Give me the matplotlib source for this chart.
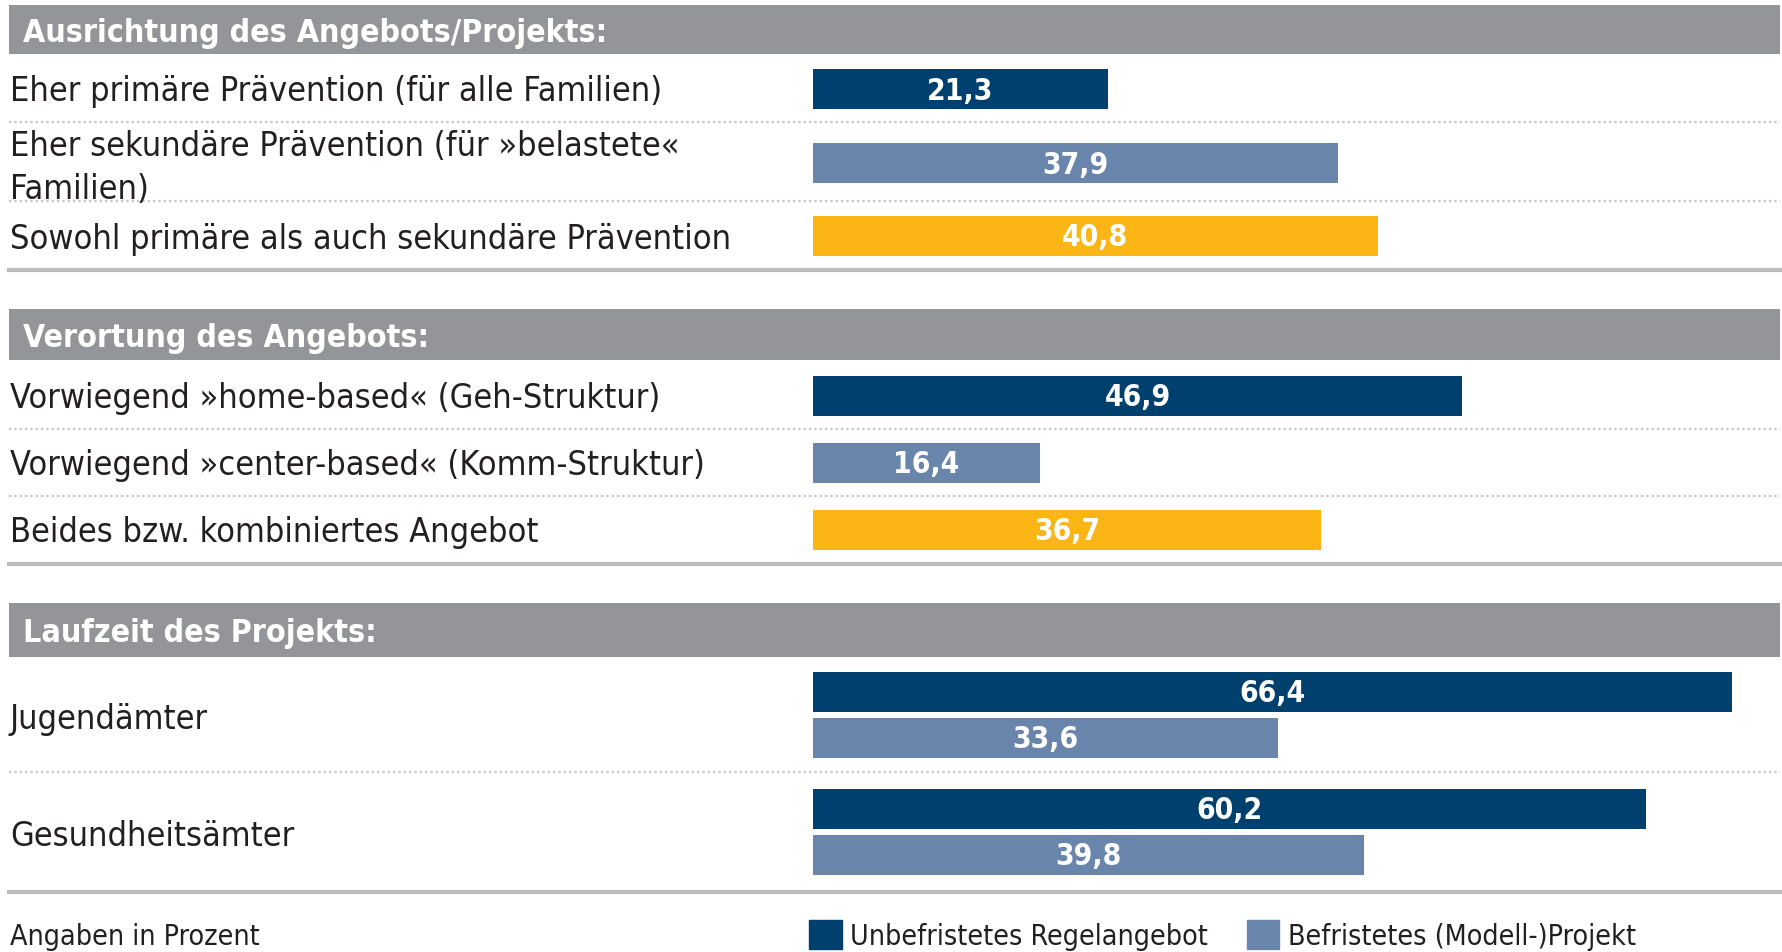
import matplotlib
matplotlib.use("Agg")
import matplotlib.pyplot as plt
from matplotlib import font_manager
from matplotlib.patches import Patch

# --- data ---
section_titles = [
    "Ausrichtung des Angebots/Projekts:",
    "Verortung des Angebots:",
    "Laufzeit des Projekts:",
]
sec1_labels = [
    "Eher primäre Prävention (für alle Familien)",
    "Eher sekundäre Prävention (für »belastete«\nFamilien)",
    "Sowohl primäre als auch sekundäre Prävention",
]
sec1_values = [21.3, 37.9, 40.8]
sec2_labels = [
    "Vorwiegend »home-based« (Geh-Struktur)",
    "Vorwiegend »center-based« (Komm-Struktur)",
    "Beides bzw. kombiniertes Angebot",
]
sec2_values = [46.9, 16.4, 36.7]
sec3_labels = ["Jugendämter", "Gesundheitsämter"]
sec3_unbefristet = [66.4, 60.2]
sec3_befristet = [33.6, 39.8]
legend_labels = ["Unbefristetes Regelangebot", "Befristetes (Modell-)Projekt"]
note = "Angaben in Prozent"

# --- style ---
NAVY = "#00406e"
STEEL = "#6985ab"
YELLOW = "#fbb615"
GRAY = "#939598"
TEXT = "#231f20"
row_colors = [NAVY, STEEL, YELLOW]

names = {f.name for f in font_manager.fontManager.ttflist}
if "Liberation Sans Narrow" in names:
    FONT = ["Liberation Sans Narrow", "DejaVu Sans"]
    STRETCH = "normal"
else:
    FONT = ["DejaVu Sans"]
    STRETCH = "condensed"
plt.rcParams["font.family"] = FONT
plt.rcParams["font.stretch"] = STRETCH

W, H = 1783, 953
PX_PER_PCT = 13.84
X0 = 813  # pixel where 0 % sits

LABEL_FS = 24.6
HEAD_FS = 23
VAL_FS = 21.5
SMALL_FS = 20.5

# --- layout (pixel rows, y downward) ---
header_spans = [(6, 55), (310, 361), (604, 658)]
sec1_y = [90, 164, 237]
sec2_y = [397, 464, 531]
sec3_y = [716, 833]
pair_offset = 23
bar_h = 40
dotted_y = [123, 202, 430, 497, 773]
solid_y = [271, 565, 893]

fig = plt.figure(figsize=(W / 100, H / 100), dpi=100)
ax = fig.add_axes([0, 0, 1, 1])
ax.set_xlim(-X0 / PX_PER_PCT, (W - X0) / PX_PER_PCT)
ax.set_ylim(H, 0)
ax.axis("off")

xl, xr = 9 / W, 1780 / W
tx = ax.get_yaxis_transform()

for (t, b), title in zip(header_spans, section_titles):
    ax.axhspan(t, b, xmin=xl, xmax=xr, color=GRAY, lw=0)
    ax.text(23 / W, (t + b) / 2 + 3, title, transform=tx, color="white",
            fontsize=HEAD_FS, fontweight="bold", va="center", ha="left")

for y in dotted_y:
    ax.axhline(y, xmin=xl, xmax=xr, color="#c4c4c4", lw=1.6,
               linestyle=(0, (1, 1.4)))
for y in solid_y:
    ax.axhline(y, xmin=xl, xmax=xr, color="#bcbcbc", lw=3)


def bar_label(y, v):
    ax.text(v / 2, y + 1, f"{v:.1f}".replace(".", ","), color="white",
            fontsize=VAL_FS, fontweight="bold", ha="center", va="center")


for labels, values, ys in [(sec1_labels, sec1_values, sec1_y),
                           (sec2_labels, sec2_values, sec2_y)]:
    ax.barh(ys, values, height=bar_h, left=0, color=row_colors)
    for lab, v, y in zip(labels, values, ys):
        multi = "\n" in lab
        ax.text(10 / W, y + (4 if multi else 2), lab, transform=tx, color=TEXT,
                fontsize=LABEL_FS, va="center", ha="left", linespacing=1.42)
        bar_label(y, v)

y_top = [y - pair_offset for y in sec3_y]
y_bot = [y + pair_offset for y in sec3_y]
ax.barh(y_top, sec3_unbefristet, height=bar_h, color=NAVY)
ax.barh(y_bot, sec3_befristet, height=bar_h, color=STEEL)
for lab, y, a, b, yt, yb in zip(sec3_labels, sec3_y, sec3_unbefristet,
                                sec3_befristet, y_top, y_bot):
    ax.text(10 / W, y + 4, lab, transform=tx, color=TEXT, fontsize=LABEL_FS,
            va="center", ha="left")
    bar_label(yt, a)
    bar_label(yb, b)

ax.text(10 / W, 937, note, transform=tx, color=TEXT, fontsize=SMALL_FS,
        va="center", ha="left")

handles = [Patch(color=NAVY), Patch(color=STEEL)]
fig.legend(handles, legend_labels, loc="center left",
           bbox_to_anchor=(809 / W, 1 - 936 / H), ncol=2, frameon=False,
           fontsize=SMALL_FS, borderpad=0, borderaxespad=0, handlelength=1.15,
           handleheight=1.2, handletextpad=0.3, columnspacing=1.35,
           labelcolor=TEXT)

fig.savefig("out.png", dpi=100)
